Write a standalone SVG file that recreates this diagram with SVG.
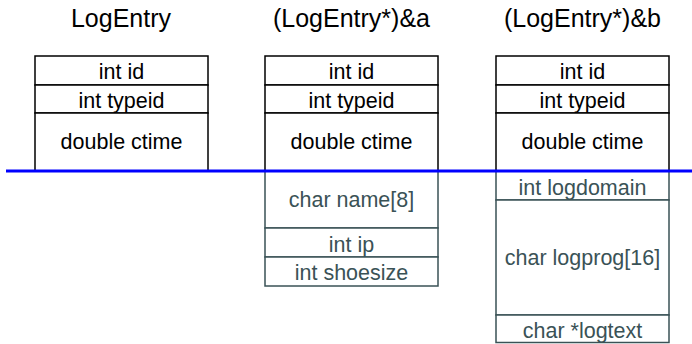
<svg xmlns="http://www.w3.org/2000/svg" width="692" height="344" viewBox="0 0 692 344">
<style>
text{font-family:"Liberation Sans",Arial,sans-serif;text-anchor:middle}
.title{font-size:25px;fill:#000}
.cell{font-size:21.5px;fill:#000}
.low{font-size:21.5px;fill:#3a5256}
.up{fill:#fff;stroke:#000;stroke-width:1.5}
.lo{fill:#fff;stroke:#3a5256;stroke-width:1.5}
</style>
<rect width="692" height="344" fill="#fff"/>
<g id="logentry">
<text class="title" x="121" y="27">LogEntry</text>
<rect class="up" x="35" y="56" width="173" height="29"/>
<rect class="up" x="35" y="85" width="173" height="28"/>
<rect class="up" x="35" y="113" width="173" height="58"/>
<text class="cell" x="121.5" y="79">int id</text>
<text class="cell" x="121.5" y="108">int typeid</text>
<text class="cell" x="121.5" y="148.5">double ctime</text>
</g>
<g id="entry-a">
<text class="title" x="351.5" y="27">(LogEntry*)&amp;a</text>
<rect class="up" x="265" y="56" width="173" height="29"/>
<rect class="up" x="265" y="85" width="173" height="28"/>
<rect class="up" x="265" y="113" width="173" height="58"/>
<text class="cell" x="351.5" y="79">int id</text>
<text class="cell" x="351.5" y="108">int typeid</text>
<text class="cell" x="351.5" y="148.5">double ctime</text>
<rect class="lo" x="265" y="171" width="173" height="57"/>
<rect class="lo" x="265" y="228" width="173" height="29"/>
<rect class="lo" x="265" y="257" width="173" height="29"/>
<text class="low" x="351.5" y="206.5">char name[8]</text>
<text class="low" x="351.5" y="251.5">int ip</text>
<text class="low" x="351.5" y="280">int shoesize</text>
</g>
<g id="entry-b">
<text class="title" x="582.5" y="27">(LogEntry*)&amp;b</text>
<rect class="up" x="496" y="56" width="173" height="29"/>
<rect class="up" x="496" y="85" width="173" height="28"/>
<rect class="up" x="496" y="113" width="173" height="58"/>
<text class="cell" x="582.5" y="79">int id</text>
<text class="cell" x="582.5" y="108">int typeid</text>
<text class="cell" x="582.5" y="148.5">double ctime</text>
<rect class="lo" x="496" y="171" width="173" height="29"/>
<rect class="lo" x="496" y="200" width="173" height="115"/>
<rect class="lo" x="496" y="315" width="173" height="27.5"/>
<text class="low" x="582.5" y="194.5">int logdomain</text>
<text class="low" x="582.5" y="265">char logprog[16]</text>
<text class="low" x="582.5" y="338">char *logtext</text>
</g>
<g id="connectors">
<line x1="6" y1="171" x2="692" y2="171" stroke="#0000ff" stroke-width="3"/>
</g>
</svg>
